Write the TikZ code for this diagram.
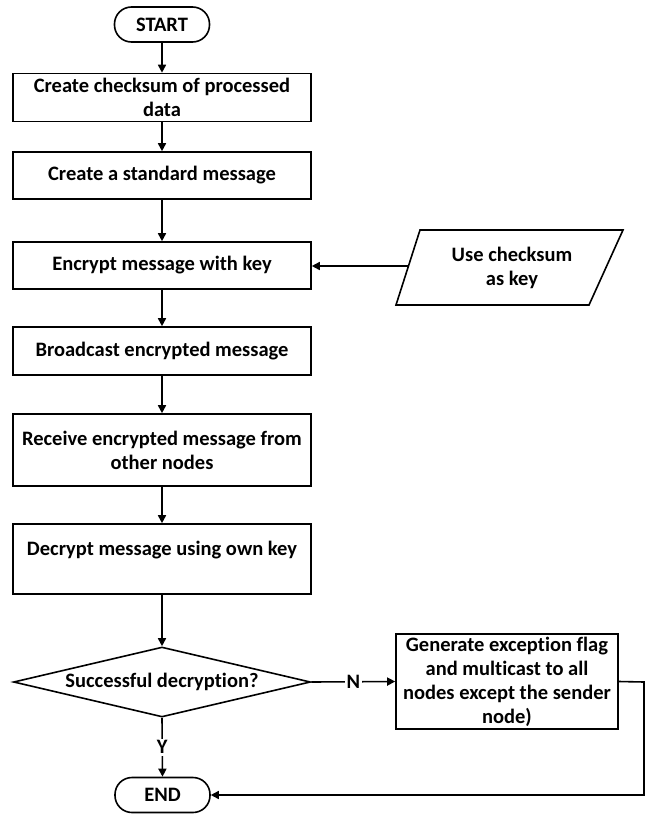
\documentclass[tikz,border=0pt]{standalone}
\usepackage{fontspec}
\setmainfont[Ligatures={NoCommon}]{Carlito}
\usetikzlibrary{arrows.meta,shapes.geometric,calc}
\newcommand{\myfont}{\fontsize{20.5}{24}\selectfont\bfseries}
\tikzset{
  box/.style={draw, line width=1.6pt, rectangle, minimum width=298pt, align=center, inner sep=2pt, font=\myfont},
  term/.style={draw, line width=1.6pt, rectangle, rounded corners=17pt, minimum width=95pt, minimum height=35pt, font=\myfont},
  txt/.style={align=center, inner sep=1pt, font=\myfont},
  conn/.style={line width=1.6pt, -{Triangle[length=8pt,width=8pt]}},
  lab/.style={fill=white, inner sep=2pt, font=\myfont},
}
\begin{document}
\begin{tikzpicture}[x=1pt,y=-1pt]
\useasboundingbox (0,0) rectangle (646,814);
\node[term] (start) at (162,24.5) {START};
\node[box, minimum height=48pt] (b1) at (162,97.5) {Create checksum of processed\\data};
\node[box, minimum height=47pt] (b2) at (162,175.5) {Create a standard message};
\node[box, minimum height=47pt] (b3) at (162,265.5) {Encrypt message with key};
\node[box, minimum height=48pt] (b4) at (162,351) {Broadcast encrypted message};
\node[box, minimum height=72pt] (b5) at (162,450) {Receive encrypted message from\\other nodes};
\node[box, minimum height=70pt] (b6) at (162,559) {};
\node[txt] (b6t) at (162,550) {Decrypt message using own key};
\node[draw, diamond, line width=1.6pt, aspect=4.2, inner sep=0pt, minimum width=297pt, minimum height=70pt, font=\myfont] (dia) at (162,682) {Successful decryption?};
\node[box, minimum width=222pt, minimum height=95pt] (gen) at (507,681.5) {Generate exception flag\\and multicast to all\\nodes except the sender\\node)};
\node[term] (end) at (162.5,795) {END};
% parallelogram
\draw[line width=1.6pt] (420,230) -- (623,230) -- (589,305) -- (396,305) -- cycle;
\node[txt] (key) at (512,268) {Use checksum\\as key};
\coordinate (keyw) at (409,266);
% connectors
\draw[conn] (start) -- (b1);
\draw[conn] (b1) -- (b2);
\draw[conn] (b2) -- (b3);
\draw[conn] (b3) -- (b4);
\draw[conn] (b4) -- (b5);
\draw[conn] (b5) -- (b6);
\draw[conn] (b6) -- (dia.north);
\draw[conn] (keyw) -- (b3.east |- keyw);
\draw[conn] (dia.east) -- node[lab] (nlab) {N} (gen.west);
\draw[conn] (dia.south) -- node[lab] (ylab) {Y} (end.north);
\coordinate (rc) at (644,682);
\draw[conn] (gen.east) -- (rc) |- (end.east);
\end{tikzpicture}
\end{document}
